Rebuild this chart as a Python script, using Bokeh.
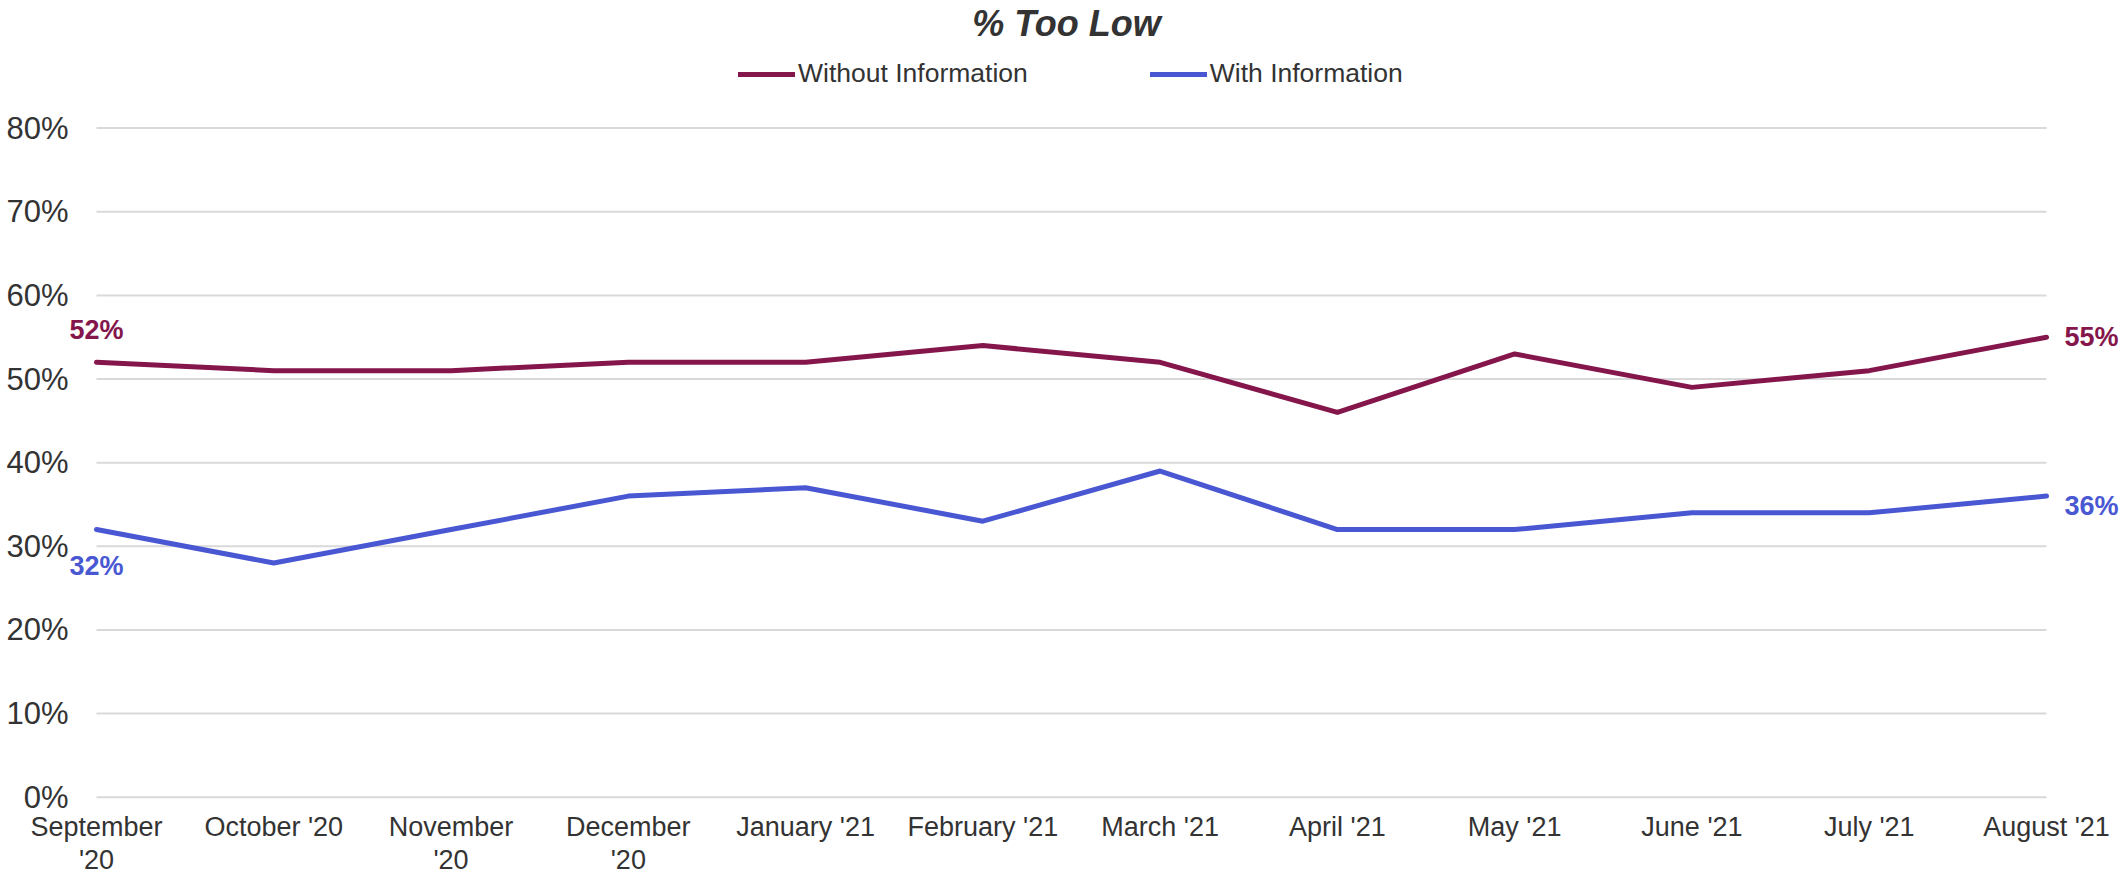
from bokeh.plotting import figure
from bokeh.models import Range1d, FixedTicker, PrintfTickFormatter, Legend, LegendItem, Label
from bokeh.core.properties import value
from bokeh.embed import file_html
from bokeh.resources import INLINE

# ---- data ----
months = ["September\n'20", "October '20", "November\n'20", "December\n'20", "January '21",
          "February '21", "March '21", "April '21", "May '21", "June '21", "July '21", "August '21"]
without_info = [52, 51, 51, 52, 52, 54, 52, 46, 53, 49, 51, 55]
with_info = [32, 28, 32, 36, 37, 33, 39, 32, 32, 34, 34, 36]
y_ticks = [0, 10, 20, 30, 40, 50, 60, 70, 80]
title_text = "% Too Low"
series_names = ["Without Information", "With Information"]

FONT = "Liberation Sans"
C_WO = "#84164B"
C_W = "#4957D3"
TXT = "#333333"
GRID = "#D9D9D9"

W, H = 2124, 875
PX0, PX1 = 96, 2046          # canvas px of first / last category
PY0, PY80 = 796.7, 127.6     # canvas px of 0% / 80%
xs = list(range(len(months)))
kx = (PX1 - PX0) / (xs[-1] - xs[0])
ky = (PY0 - PY80) / (y_ticks[-1] - y_ticks[0])
x_lo = xs[0] - PX0 / kx
x_hi = xs[-1] + (W - PX1) / kx
y_hi = y_ticks[-1] + PY80 / ky
y_lo = y_ticks[0] - (H - PY0) / ky

p = figure(width=W, height=H, output_backend="svg", toolbar_location=None, title=None,
           x_range=Range1d(x_lo, x_hi), y_range=Range1d(y_lo, y_hi),
           min_border_left=0, min_border_right=0, min_border_top=0, min_border_bottom=0)
p.outline_line_color = None
p.background_fill_color = "white"
p.border_fill_color = "white"

# x axis drawn at y = 0 inside the frame
p.xaxis.fixed_location = 0
p.xaxis.ticker = FixedTicker(ticks=xs)
p.xaxis.major_label_overrides = {i: m for i, m in enumerate(months)}
p.xaxis.axis_line_color = None
p.xaxis.major_tick_line_color = None
p.xaxis.minor_tick_line_color = None
p.xaxis.major_tick_out = 0
p.xaxis.major_tick_in = 0
p.xaxis.major_label_standoff = 15
p.xaxis.major_label_text_font = FONT
p.xaxis.major_label_text_font_size = "27px"
p.xaxis.major_label_text_color = TXT
p.xaxis.major_label_text_line_height = 1.08

# y axis drawn just left of the first category, inside the frame
p.yaxis.fixed_location = xs[0] - (PX0 - 68) / kx
p.yaxis.ticker = FixedTicker(ticks=y_ticks)
p.yaxis.formatter = PrintfTickFormatter(format="%d%%")
p.yaxis.axis_line_color = None
p.yaxis.major_tick_line_color = None
p.yaxis.minor_tick_line_color = None
p.yaxis.major_tick_out = 0
p.yaxis.major_tick_in = 0
p.yaxis.major_label_standoff = 0
p.yaxis.major_label_text_font = FONT
p.yaxis.major_label_text_font_size = "31px"
p.yaxis.major_label_text_color = TXT

p.xgrid.grid_line_color = None
p.ygrid.grid_line_color = None

# horizontal gridlines spanning the categories only
p.segment(x0=[xs[0]] * len(y_ticks), x1=[xs[-1]] * len(y_ticks), y0=y_ticks, y1=y_ticks,
          line_color=GRID, line_width=2)

r1 = p.line(xs, without_info, line_color=C_WO, line_width=5, line_cap="round", line_join="round")
r2 = p.line(xs, with_info, line_color=C_W, line_width=5, line_cap="round", line_join="round")

# data labels (first and last points)
lab_kw = dict(text_font=value(FONT), text_font_size="27px", text_font_style="bold")
p.text(x=[xs[0]], y=[without_info[0]], text=[f"{without_info[0]}%"], text_color=C_WO,
       text_align="center", text_baseline="middle", y_offset=-32, **lab_kw)
p.text(x=[xs[0]], y=[with_info[0]], text=[f"{with_info[0]}%"], text_color=C_W,
       text_align="center", text_baseline="middle", y_offset=36, **lab_kw)
p.text(x=[xs[-1]], y=[without_info[-1]], text=[f"{without_info[-1]}%"], text_color=C_WO,
       text_align="left", text_baseline="middle", x_offset=18, y_offset=0, **lab_kw)
p.text(x=[xs[-1]], y=[with_info[-1]], text=[f"{with_info[-1]}%"], text_color=C_W,
       text_align="left", text_baseline="middle", x_offset=18, y_offset=10, **lab_kw)

# title (centre x = 1066 px, near the top of the canvas)
title = Label(x=xs[0] + (1066 - PX0) / kx, y=(PY0 - 23) / ky, text=title_text,
              text_font=FONT, text_font_size="36px", text_font_style="bold italic",
              text_color=TXT, text_align="center", text_baseline="alphabetic")
p.add_layout(title)

legend = Legend(items=[LegendItem(label=series_names[0], renderers=[r1]),
                       LegendItem(label=series_names[1], renderers=[r2])],
                orientation="horizontal", location=(738, H - 89),
                glyph_width=57, glyph_height=20, label_standoff=3, spacing=122,
                padding=0, margin=0, border_line_color=None, background_fill_alpha=0,
                label_text_font=FONT, label_text_font_size="26.5px", label_text_color=TXT)
p.add_layout(legend)

open("out.html", "w").write(file_html(p, INLINE))
